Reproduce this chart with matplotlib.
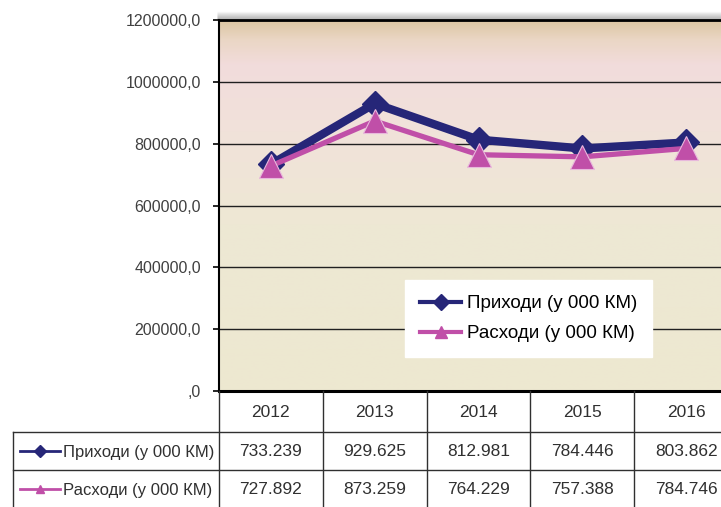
import numpy as np
import matplotlib
matplotlib.use('Agg')
import matplotlib.pyplot as plt
from matplotlib.lines import Line2D
from matplotlib.colors import LinearSegmentedColormap

plt.rcParams['font.family'] = ['Liberation Sans', 'DejaVu Sans']

years = ['2012', '2013', '2014', '2015', '2016']
prihodi = [733239, 929625, 812981, 784446, 803862]
rashodi = [727892, 873259, 764229, 757388, 784746]
series_names = ['Приходи (у 000 КМ)', 'Расходи (у 000 КМ)']
y_ticks = [0, 200000, 400000, 600000, 800000, 1000000, 1200000]

NAVY = '#262678'
PINK = '#c04fa8'
W, H = 721, 507

fig = plt.figure(figsize=(W / 100, H / 100), dpi=100)
fig.patch.set_facecolor('white')

# pixel layout of plot area (right side runs past the figure edge)
left, right, top, bottom = 219, 738, 20, 391
ax = fig.add_axes([left / W, 1 - bottom / H, (right - left) / W, (bottom - top) / H])

# background gradient: tan at top -> pink -> cream
cmap = LinearSegmentedColormap.from_list('bg', [
    (0.0, '#dcc6a2'), (0.05, '#ead6c4'), (0.12, '#f2dcdc'),
    (0.30, '#f1e2da'), (0.55, '#eee8d4'), (1.0, '#ede8d0')])
grad = np.linspace(0, 1, 256).reshape(-1, 1)
ax.imshow(grad, aspect='auto', cmap=cmap, extent=(-0.5, 4.5, 0, 1200000),
          origin='upper', zorder=0)

x = np.arange(len(years))
ax.set_xlim(-0.5, 4.5)
ax.set_ylim(0, 1200000)
ax.set_yticks(y_ticks)
ax.set_yticklabels([(f'{v:.1f}'.replace('.', ',') if v else ',0') for v in y_ticks],
                   fontsize=11.5, color='#404040')
ax.tick_params(axis='y', direction='out', length=4, width=1.2, color='black', pad=9)
ax.set_xticks([])
ax.grid(axis='y', color='#202020', linewidth=1.0, zorder=1)
for s in ['left', 'top', 'bottom']:
    ax.spines[s].set_color('black')
ax.spines['left'].set_linewidth(1.5)
ax.spines['top'].set_linewidth(2)
ax.spines['bottom'].set_linewidth(2.2)
ax.spines['right'].set_visible(False)

ax.plot(x, prihodi, color=NAVY, linewidth=6, marker='D', markersize=13,
        markeredgecolor=NAVY, label=series_names[0], zorder=3)
ax.plot(x, rashodi, color=PINK, linewidth=3.8, marker='^', markersize=17,
        markeredgecolor='#e8b8dc', markeredgewidth=0.8, label=series_names[1], zorder=4)

leg = ax.legend(handles=[Line2D([], [], color=NAVY, linewidth=3, marker='D', markersize=8),
                         Line2D([], [], color=PINK, linewidth=3, marker='^', markersize=8)],
                labels=series_names, loc='upper left',
                bbox_to_anchor=((405 - left) / (right - left), 1 - (280 - top) / (bottom - top)),
                fontsize=13.5, frameon=True, fancybox=False, framealpha=1,
                edgecolor='white', handlelength=2.2, handletextpad=0.3,
                labelspacing=0.7, borderpad=0.8, borderaxespad=0)
leg.set_zorder(5)

# shadow above the plot area
ov = fig.add_axes([0, 0, 1, 1], zorder=-1)
ov.set_xlim(0, W)
ov.set_ylim(H, 0)
ov.axis('off')
for i in range(8):
    ov.plot([left - 2, W], [top - 1 - i, top - 1 - i], color='#808080',
            alpha=0.5 * (1 - i / 8), linewidth=1, solid_capstyle='butt')

# data table under the chart
tb = fig.add_axes([0, 0, 1, 1], zorder=6)
tb.set_xlim(0, W)
tb.set_ylim(H, 0)
tb.axis('off')
tb.patch.set_alpha(0)
colw = (right - left) / len(years)
row_y = [bottom, 432, 470, 508]
tab_left = 13
lc = '#303030'
for i in range(len(years)):
    xs = left + i * colw
    tb.plot([xs, xs], [bottom, H], color=lc, linewidth=1)
tb.plot([tab_left, tab_left], [row_y[1], H], color=lc, linewidth=1)
for yy in row_y[1:3]:
    tb.plot([tab_left, W], [yy, yy], color=lc, linewidth=1)

for i, yr in enumerate(years):
    cx = left + (i + 0.5) * colw
    tb.text(cx, (row_y[0] + row_y[1]) / 2 + 1, yr, ha='center', va='center',
            fontsize=12.5, color='#303030')
    for r, vals in enumerate([prihodi, rashodi]):
        tb.text(cx, (row_y[r + 1] + row_y[r + 2]) / 2 + 1,
                f'{vals[i]:,}'.replace(',', '.'), ha='center', va='center',
                fontsize=12.5, color='#303030')

for r, (col, mk) in enumerate([(NAVY, 'D'), (PINK, '^')]):
    cy = (row_y[r + 1] + row_y[r + 2]) / 2
    tb.plot([20, 60], [cy, cy], color=col, linewidth=2)
    tb.plot([40], [cy], color=col, marker=mk, markersize=6)
    tb.text(63, cy + 1, series_names[r], ha='left', va='center',
            fontsize=12, color='#303030')

fig.savefig('out.png', dpi=100)
